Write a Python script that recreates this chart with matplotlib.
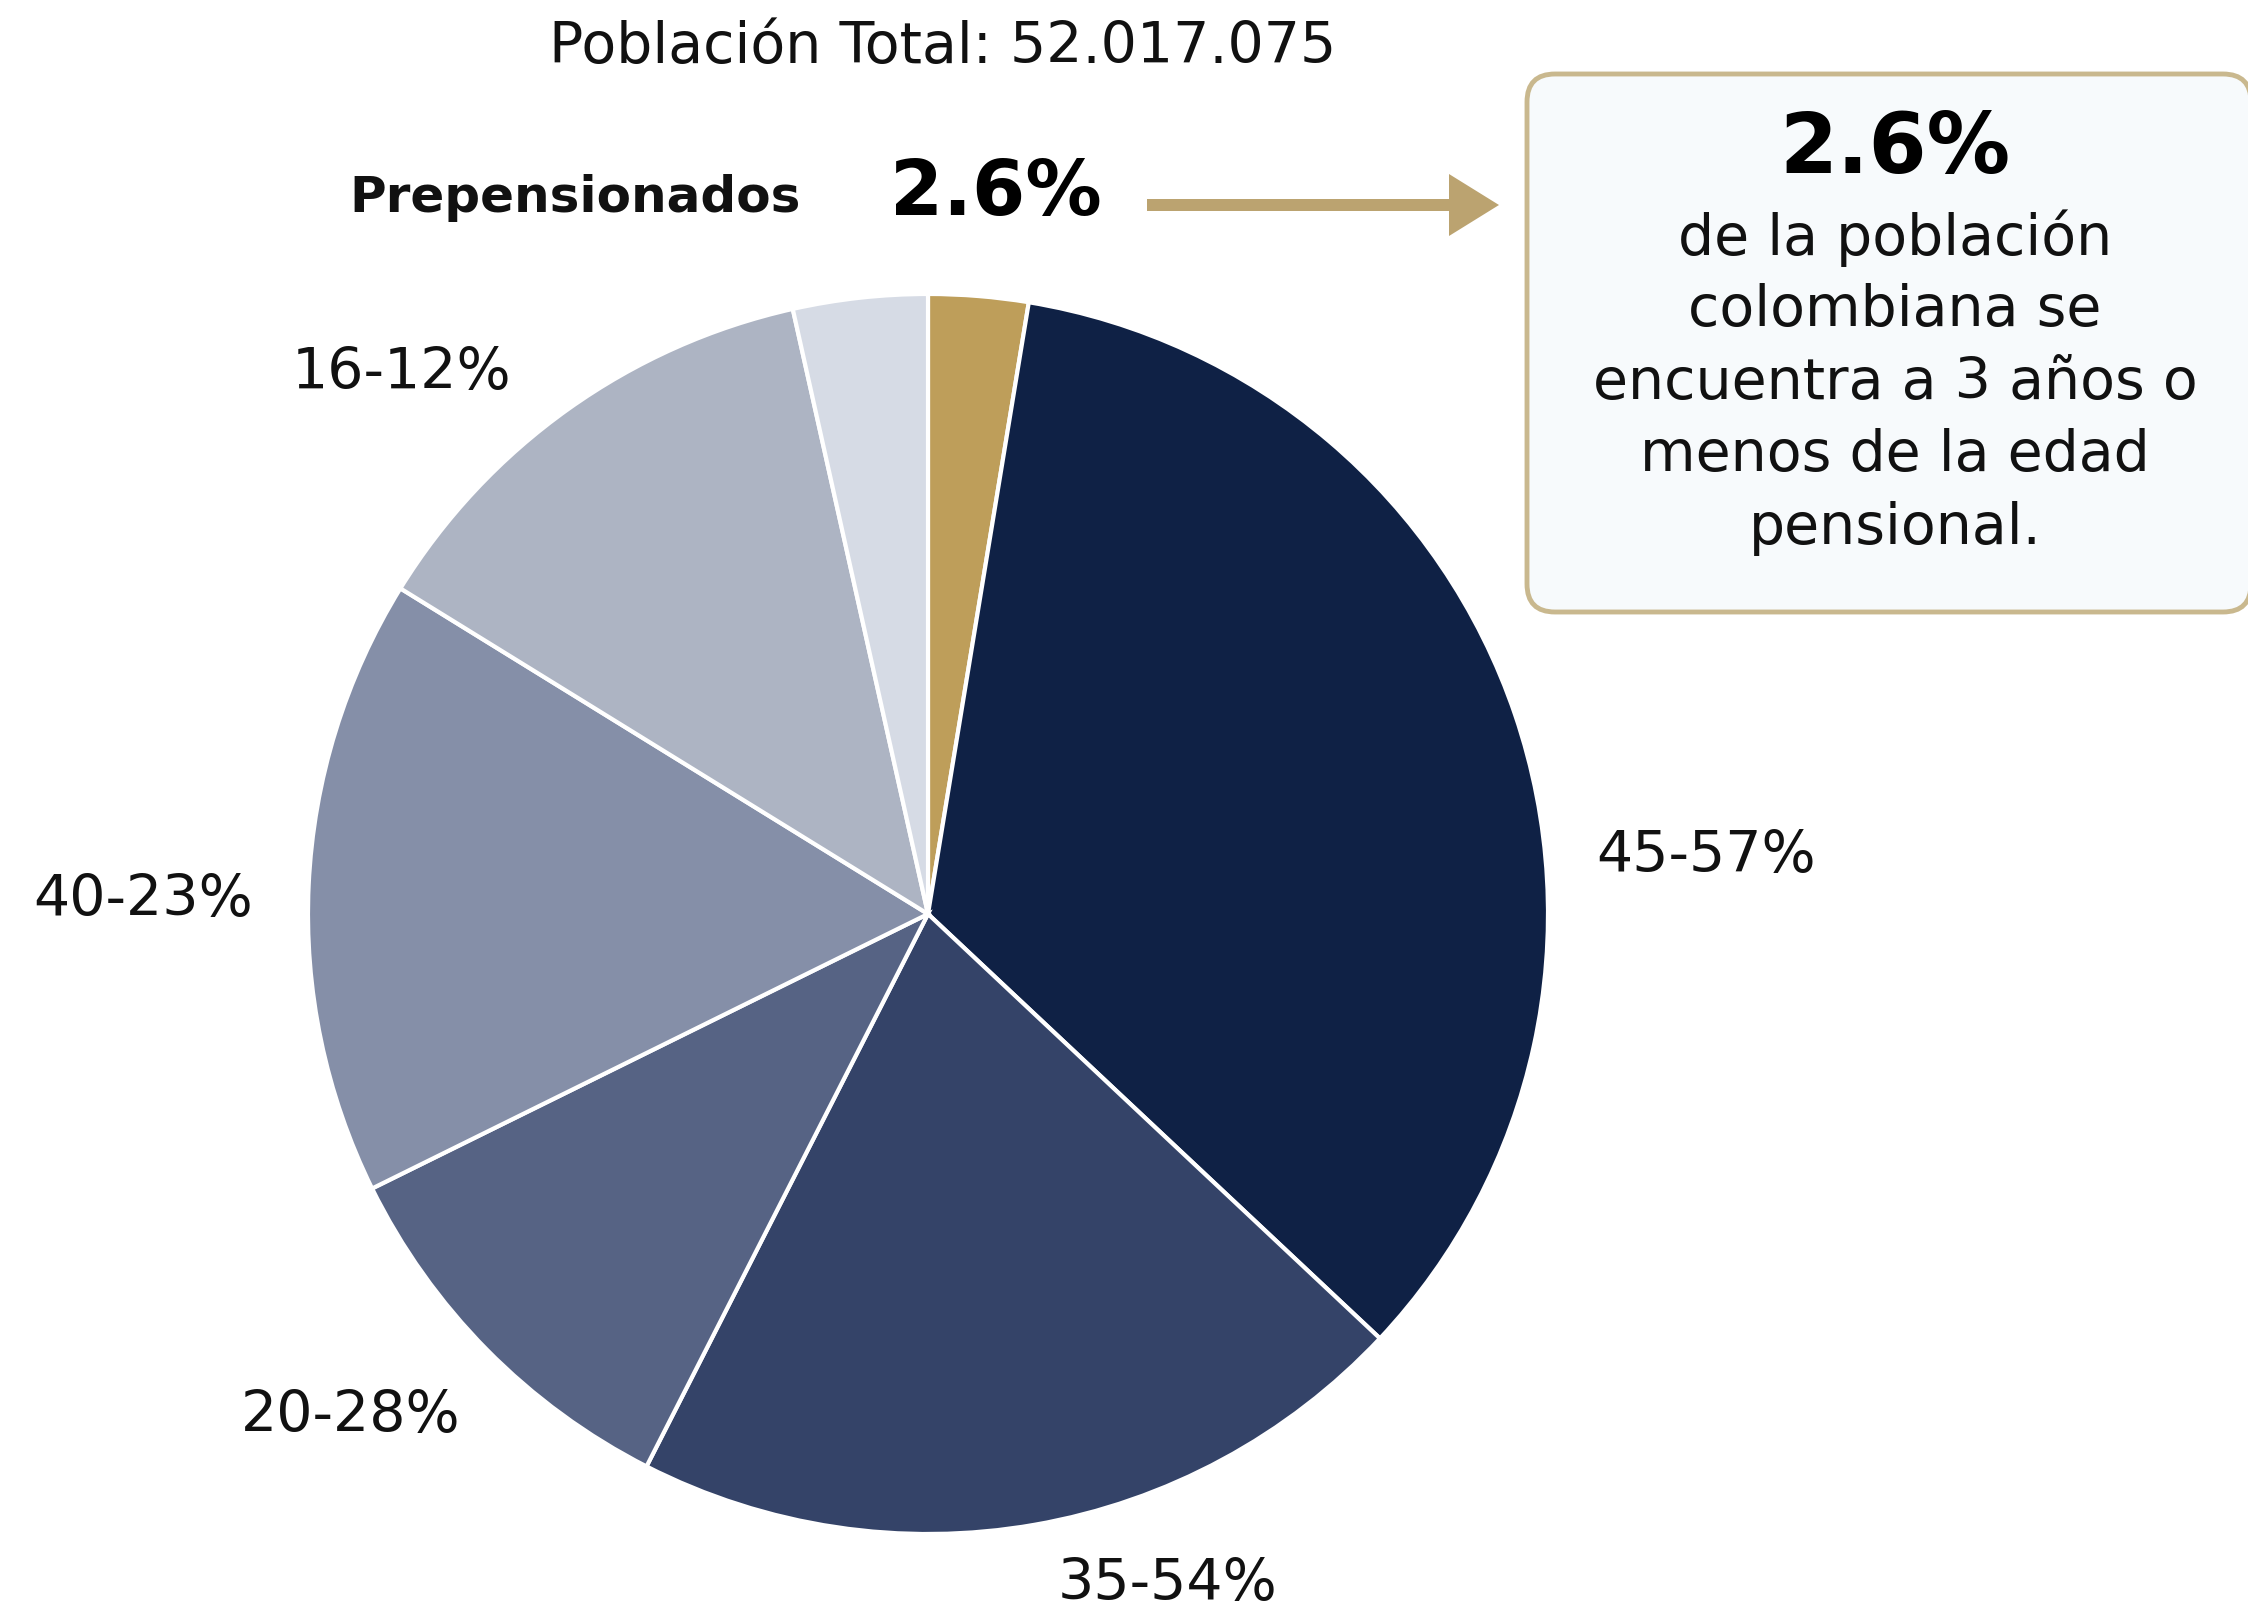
import matplotlib
matplotlib.use("Agg")
import matplotlib.pyplot as plt
from matplotlib.patches import FancyBboxPatch, FancyArrow

# Datos del gráfico (porcentaje del círculo, sentido horario desde arriba)
grupos = ["Prepensionados", "45-57", "35-54", "20-28", "40-23", "16-12", "otros"]
valores = [2.6, 34.4, 20.5, 10.2, 16.1, 12.7, 3.5]
etiquetas = ["", "45-57%", "35-54%", "20-28%", "40-23%", "16-12%", ""]
colores = ["#BE9E5A", "#0F2145", "#344368", "#566384", "#858FA8", "#ADB4C3", "#D6DBE5"]

titulo = "Población Total: 52.017.075"
destacado = "2.6%"
texto_caja = ["de la población", "colombiana se", "encuentra a 3 años o",
              "menos de la edad", "pensional."]

W, H = 2248, 1610
plt.rcParams["font.family"] = ["DejaVu Sans"]

fig = plt.figure(figsize=(W / 100, H / 100), dpi=100)
fig.patch.set_facecolor("white")

# Eje del pastel: centro (928, 914) px, radio 620 px
cx, cy, r = 928, 914, 620
ax = fig.add_axes([(cx - r) / W, (H - cy - r) / H, 2 * r / W, 2 * r / H])
ax.pie(valores, colors=colores, startangle=90, counterclock=False,
       wedgeprops=dict(edgecolor="white", linewidth=3))
ax.set_xlim(-1, 1)
ax.set_ylim(-1, 1)
ax.set_aspect("equal")
ax.axis("off")

# Capa superior en coordenadas de píxel
ov = fig.add_axes([0, 0, 1, 1], facecolor="none")
ov.set_xlim(0, W)
ov.set_ylim(H, 0)
ov.axis("off")

# Etiquetas de las porciones
pos_etiquetas = [None, (1706, 856), (1168, 1584), (351, 1416), (143, 900), (401, 373), None]
for txt, pos in zip(etiquetas, pos_etiquetas):
    if pos is not None:
        ov.text(pos[0], pos[1], txt, fontsize=41, ha="center", va="center", color="#111111")

ov.text(943, 47, titulo, fontsize=41, ha="center", va="center", color="#111111")
ov.text(575, 198, grupos[0], fontsize=36, fontweight="bold", ha="center", va="center",
        color="#111111")
ov.text(996, 194, destacado, fontsize=55, fontweight="bold", ha="center", va="center",
        color="#000000")

# Flecha
ov.add_patch(FancyArrow(1147, 205, 352, 0, width=12, head_width=62, head_length=50,
                        length_includes_head=True, color="#BBA370", linewidth=0))

# Caja
caja = FancyBboxPatch((1527, 74), 724, 538, boxstyle="round,pad=0,rounding_size=28",
                      facecolor="#F7FAFC", edgecolor="#C9B88E", linewidth=3.5)
ov.add_patch(caja)
ov.text(1895, 150, destacado, fontsize=60, fontweight="bold", ha="center", va="center",
        color="#000000")
for i, linea in enumerate(texto_caja):
    ov.text(1895, 238 + i * 72.5, linea, fontsize=41, ha="center", va="center",
            color="#111111")

fig.savefig("out.png", dpi=100, facecolor="white")
